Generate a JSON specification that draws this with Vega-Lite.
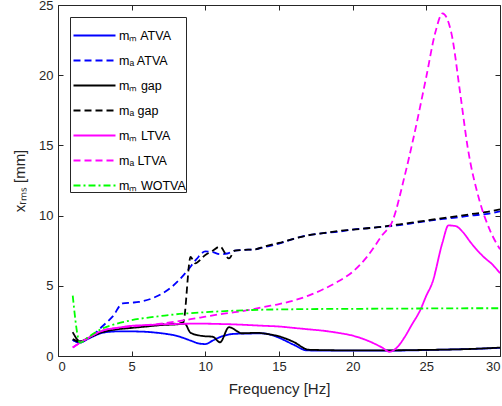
{
  "$schema": "https://vega.github.io/schema/vega-lite/v6.json",
  "width": 442,
  "height": 351,
  "autosize": {"type": "none"},
  "padding": {"left": 58, "top": 5, "right": 2, "bottom": 50},
  "background": "white",
  "config": {
    "view": {"stroke": "#262626", "strokeWidth": 1},
    "font": "Liberation Sans",
    "axis": {"grid": false, "domain": false, "ticks": true, "tickWidth": 1, "tickColor": "#262626", "labelColor": "#262626", "titleColor": "#262626", "labelFontSize": 13, "titleFontSize": 15, "titleFontWeight": "normal", "labelFont": "Liberation Sans", "titleFont": "Liberation Sans"}
  },
  "data": {"values": [
    {"s":"mₘ ATVA","f":1,"y":1.15},{"s":"mₘ ATVA","f":1.5,"y":0.95},{"s":"mₘ ATVA","f":2,"y":1.2},{"s":"mₘ ATVA","f":2.5,"y":1.45},{"s":"mₘ ATVA","f":3,"y":1.65},{"s":"mₘ ATVA","f":4,"y":1.75},{"s":"mₘ ATVA","f":5,"y":1.75},{"s":"mₘ ATVA","f":6,"y":1.72},{"s":"mₘ ATVA","f":7,"y":1.62},{"s":"mₘ ATVA","f":8,"y":1.45},{"s":"mₘ ATVA","f":9,"y":1.1},{"s":"mₘ ATVA","f":9.6,"y":0.88},{"s":"mₘ ATVA","f":10,"y":0.85},{"s":"mₘ ATVA","f":10.5,"y":1.1},{"s":"mₘ ATVA","f":11,"y":1.35},{"s":"mₘ ATVA","f":12,"y":1.58},{"s":"mₘ ATVA","f":13,"y":1.6},{"s":"mₘ ATVA","f":13.7,"y":1.62},{"s":"mₘ ATVA","f":14.5,"y":1.5},{"s":"mₘ ATVA","f":15,"y":1.3},{"s":"mₘ ATVA","f":16,"y":0.8},{"s":"mₘ ATVA","f":16.9,"y":0.4},{"s":"mₘ ATVA","f":18,"y":0.38},{"s":"mₘ ATVA","f":20,"y":0.38},{"s":"mₘ ATVA","f":22,"y":0.38},{"s":"mₘ ATVA","f":24,"y":0.4},{"s":"mₘ ATVA","f":26,"y":0.45},{"s":"mₘ ATVA","f":28,"y":0.5},{"s":"mₘ ATVA","f":30,"y":0.58},
    {"s":"mₐ ATVA","f":1,"y":1.15},{"s":"mₐ ATVA","f":1.5,"y":0.95},{"s":"mₐ ATVA","f":2,"y":1.25},{"s":"mₐ ATVA","f":2.5,"y":1.6},{"s":"mₐ ATVA","f":3,"y":2.1},{"s":"mₐ ATVA","f":3.7,"y":2.8},{"s":"mₐ ATVA","f":4.4,"y":3.75},{"s":"mₐ ATVA","f":5,"y":3.8},{"s":"mₐ ATVA","f":5.5,"y":3.85},{"s":"mₐ ATVA","f":6.6,"y":4.2},{"s":"mₐ ATVA","f":7.7,"y":4.9},{"s":"mₐ ATVA","f":8.8,"y":6.1},{"s":"mₐ ATVA","f":9.4,"y":6.9},{"s":"mₐ ATVA","f":10,"y":7.45},{"s":"mₐ ATVA","f":10.5,"y":7.4},{"s":"mₐ ATVA","f":11,"y":7.25},{"s":"mₐ ATVA","f":11.5,"y":7.3},{"s":"mₐ ATVA","f":12,"y":7.5},{"s":"mₐ ATVA","f":12.5,"y":7.55},{"s":"mₐ ATVA","f":13.4,"y":7.6},{"s":"mₐ ATVA","f":14,"y":7.75},{"s":"mₐ ATVA","f":15,"y":8.0},{"s":"mₐ ATVA","f":16,"y":8.35},{"s":"mₐ ATVA","f":17,"y":8.6},{"s":"mₐ ATVA","f":18,"y":8.75},{"s":"mₐ ATVA","f":19,"y":8.85},{"s":"mₐ ATVA","f":20,"y":9.0},{"s":"mₐ ATVA","f":21,"y":9.1},{"s":"mₐ ATVA","f":22,"y":9.2},{"s":"mₐ ATVA","f":23,"y":9.3},{"s":"mₐ ATVA","f":24,"y":9.45},{"s":"mₐ ATVA","f":25,"y":9.6},{"s":"mₐ ATVA","f":26,"y":9.75},{"s":"mₐ ATVA","f":27,"y":9.85},{"s":"mₐ ATVA","f":28,"y":10.0},{"s":"mₐ ATVA","f":29,"y":10.1},{"s":"mₐ ATVA","f":30,"y":10.3},
    {"s":"mₘ gap","f":1,"y":1.7},{"s":"mₘ gap","f":1.5,"y":1.05},{"s":"mₘ gap","f":2,"y":1.25},{"s":"mₘ gap","f":2.5,"y":1.5},{"s":"mₘ gap","f":3,"y":1.7},{"s":"mₘ gap","f":4,"y":1.9},{"s":"mₘ gap","f":5,"y":2.0},{"s":"mₘ gap","f":6,"y":2.1},{"s":"mₘ gap","f":7,"y":2.2},{"s":"mₘ gap","f":8,"y":2.25},{"s":"mₘ gap","f":8.6,"y":2.3},{"s":"mₘ gap","f":9.0,"y":1.65},{"s":"mₘ gap","f":9.85,"y":1.42},{"s":"mₘ gap","f":10.5,"y":1.37},{"s":"mₘ gap","f":11.0,"y":0.98},{"s":"mₘ gap","f":11.6,"y":2.05},{"s":"mₘ gap","f":12.5,"y":1.62},{"s":"mₘ gap","f":13.5,"y":1.65},{"s":"mₘ gap","f":14.3,"y":1.55},{"s":"mₘ gap","f":15,"y":1.4},{"s":"mₘ gap","f":16,"y":1.0},{"s":"mₘ gap","f":17,"y":0.45},{"s":"mₘ gap","f":18,"y":0.42},{"s":"mₘ gap","f":20,"y":0.4},{"s":"mₘ gap","f":22,"y":0.4},{"s":"mₘ gap","f":24,"y":0.42},{"s":"mₘ gap","f":26,"y":0.45},{"s":"mₘ gap","f":28,"y":0.5},{"s":"mₘ gap","f":30,"y":0.6},
    {"s":"mₐ gap","f":1,"y":1.2},{"s":"mₐ gap","f":1.5,"y":1.0},{"s":"mₐ gap","f":2,"y":1.25},{"s":"mₐ gap","f":2.5,"y":1.5},{"s":"mₐ gap","f":3,"y":1.7},{"s":"mₐ gap","f":4,"y":1.95},{"s":"mₐ gap","f":5,"y":2.05},{"s":"mₐ gap","f":6,"y":2.15},{"s":"mₐ gap","f":7,"y":2.25},{"s":"mₐ gap","f":8,"y":2.3},{"s":"mₐ gap","f":8.5,"y":2.4},{"s":"mₐ gap","f":9.0,"y":7.05},{"s":"mₐ gap","f":9.3,"y":6.6},{"s":"mₐ gap","f":10,"y":7.2},{"s":"mₐ gap","f":10.5,"y":7.5},{"s":"mₐ gap","f":11.0,"y":7.8},{"s":"mₐ gap","f":11.6,"y":6.95},{"s":"mₐ gap","f":12.0,"y":7.5},{"s":"mₐ gap","f":12.5,"y":7.55},{"s":"mₐ gap","f":13.4,"y":7.6},{"s":"mₐ gap","f":14,"y":7.8},{"s":"mₐ gap","f":15,"y":8.05},{"s":"mₐ gap","f":16,"y":8.35},{"s":"mₐ gap","f":17,"y":8.6},{"s":"mₐ gap","f":18,"y":8.75},{"s":"mₐ gap","f":19,"y":8.9},{"s":"mₐ gap","f":20,"y":9.0},{"s":"mₐ gap","f":21,"y":9.1},{"s":"mₐ gap","f":22,"y":9.2},{"s":"mₐ gap","f":23,"y":9.35},{"s":"mₐ gap","f":24,"y":9.5},{"s":"mₐ gap","f":25,"y":9.65},{"s":"mₐ gap","f":26,"y":9.8},{"s":"mₐ gap","f":27,"y":9.95},{"s":"mₐ gap","f":28,"y":10.1},{"s":"mₐ gap","f":29,"y":10.25},{"s":"mₐ gap","f":30,"y":10.45},
    {"s":"mₘ LTVA","f":1,"y":0.6},{"s":"mₘ LTVA","f":1.5,"y":0.95},{"s":"mₘ LTVA","f":2,"y":1.25},{"s":"mₘ LTVA","f":2.5,"y":1.55},{"s":"mₘ LTVA","f":3,"y":1.8},{"s":"mₘ LTVA","f":4,"y":2.0},{"s":"mₘ LTVA","f":5,"y":2.15},{"s":"mₘ LTVA","f":6,"y":2.2},{"s":"mₘ LTVA","f":7,"y":2.25},{"s":"mₘ LTVA","f":8,"y":2.28},{"s":"mₘ LTVA","f":9,"y":2.3},{"s":"mₘ LTVA","f":10,"y":2.3},{"s":"mₘ LTVA","f":11,"y":2.28},{"s":"mₘ LTVA","f":12,"y":2.25},{"s":"mₘ LTVA","f":13,"y":2.2},{"s":"mₘ LTVA","f":14,"y":2.15},{"s":"mₘ LTVA","f":15,"y":2.1},{"s":"mₘ LTVA","f":16,"y":2.0},{"s":"mₘ LTVA","f":17,"y":1.9},{"s":"mₘ LTVA","f":18,"y":1.8},{"s":"mₘ LTVA","f":19,"y":1.65},{"s":"mₘ LTVA","f":20,"y":1.45},{"s":"mₘ LTVA","f":21,"y":1.1},{"s":"mₘ LTVA","f":22,"y":0.6},{"s":"mₘ LTVA","f":22.5,"y":0.3},{"s":"mₘ LTVA","f":23,"y":0.6},{"s":"mₘ LTVA","f":23.5,"y":1.3},{"s":"mₘ LTVA","f":24,"y":2.2},{"s":"mₘ LTVA","f":24.6,"y":3.3},{"s":"mₘ LTVA","f":25,"y":4.3},{"s":"mₘ LTVA","f":25.4,"y":5.2},{"s":"mₘ LTVA","f":26.1,"y":8.1},{"s":"mₘ LTVA","f":26.5,"y":9.3},{"s":"mₘ LTVA","f":27,"y":9.25},{"s":"mₘ LTVA","f":27.5,"y":8.8},{"s":"mₘ LTVA","f":28,"y":8.1},{"s":"mₘ LTVA","f":28.9,"y":7.05},{"s":"mₘ LTVA","f":29.5,"y":6.5},{"s":"mₘ LTVA","f":30,"y":5.9},
    {"s":"mₐ LTVA","f":1,"y":0.6},{"s":"mₐ LTVA","f":1.5,"y":0.95},{"s":"mₐ LTVA","f":2,"y":1.25},{"s":"mₐ LTVA","f":2.5,"y":1.55},{"s":"mₐ LTVA","f":3,"y":1.8},{"s":"mₐ LTVA","f":4,"y":2.0},{"s":"mₐ LTVA","f":5,"y":2.1},{"s":"mₐ LTVA","f":6,"y":2.2},{"s":"mₐ LTVA","f":7,"y":2.3},{"s":"mₐ LTVA","f":8,"y":2.45},{"s":"mₐ LTVA","f":9,"y":2.62},{"s":"mₐ LTVA","f":10,"y":2.8},{"s":"mₐ LTVA","f":11,"y":2.98},{"s":"mₐ LTVA","f":12,"y":3.12},{"s":"mₐ LTVA","f":13,"y":3.28},{"s":"mₐ LTVA","f":14,"y":3.5},{"s":"mₐ LTVA","f":15,"y":3.7},{"s":"mₐ LTVA","f":16,"y":3.95},{"s":"mₐ LTVA","f":17,"y":4.3},{"s":"mₐ LTVA","f":18,"y":4.75},{"s":"mₐ LTVA","f":19,"y":5.3},{"s":"mₐ LTVA","f":20,"y":6.0},{"s":"mₐ LTVA","f":21,"y":7.1},{"s":"mₐ LTVA","f":22,"y":8.6},{"s":"mₐ LTVA","f":22.7,"y":9.6},{"s":"mₐ LTVA","f":23.5,"y":12.7},{"s":"mₐ LTVA","f":24.1,"y":15.4},{"s":"mₐ LTVA","f":25,"y":19.9},{"s":"mₐ LTVA","f":25.6,"y":23.0},{"s":"mₐ LTVA","f":26.1,"y":24.4},{"s":"mₐ LTVA","f":26.7,"y":23.0},{"s":"mₐ LTVA","f":27.3,"y":18.7},{"s":"mₐ LTVA","f":27.8,"y":14.9},{"s":"mₐ LTVA","f":28.6,"y":11.1},{"s":"mₐ LTVA","f":29.3,"y":9.0},{"s":"mₐ LTVA","f":30,"y":7.6},
    {"s":"mₘ WOTVA","f":1,"y":4.3},{"s":"mₘ WOTVA","f":1.5,"y":0.95},{"s":"mₘ WOTVA","f":2,"y":1.3},{"s":"mₘ WOTVA","f":2.5,"y":1.65},{"s":"mₘ WOTVA","f":3,"y":1.95},{"s":"mₘ WOTVA","f":4,"y":2.3},{"s":"mₘ WOTVA","f":5,"y":2.55},{"s":"mₘ WOTVA","f":6,"y":2.72},{"s":"mₘ WOTVA","f":7,"y":2.85},{"s":"mₘ WOTVA","f":8,"y":2.97},{"s":"mₘ WOTVA","f":9,"y":3.05},{"s":"mₘ WOTVA","f":10,"y":3.12},{"s":"mₘ WOTVA","f":11,"y":3.18},{"s":"mₘ WOTVA","f":12,"y":3.23},{"s":"mₘ WOTVA","f":13,"y":3.27},{"s":"mₘ WOTVA","f":14,"y":3.3},{"s":"mₘ WOTVA","f":16,"y":3.33},{"s":"mₘ WOTVA","f":18,"y":3.35},{"s":"mₘ WOTVA","f":20,"y":3.36},{"s":"mₘ WOTVA","f":22,"y":3.37},{"s":"mₘ WOTVA","f":24,"y":3.38},{"s":"mₘ WOTVA","f":26,"y":3.39},{"s":"mₘ WOTVA","f":28,"y":3.4},{"s":"mₘ WOTVA","f":30,"y":3.4}
  ]},
  "layer": [
    {
      "mark": {"type": "line", "strokeWidth": 1.8, "clip": true, "interpolate": "monotone"},
      "encoding": {
        "x": {"field": "f", "type": "quantitative", "scale": {"domain": [0, 30], "nice": false}, "axis": {"title": "Frequency [Hz]", "values": [0,5,10,15,20,25,30], "offset": -5, "tickSize": 5, "labelPadding": 4, "titlePadding": 8}},
        "y": {"field": "y", "type": "quantitative", "scale": {"domain": [0, 25], "nice": false}, "axis": {"title": "xᵣₘₛ [mm]", "values": [0,5,10,15,20,25], "offset": -5, "tickSize": 5, "labelPadding": 5, "titlePadding": 11}},
        "color": {"field": "s", "type": "nominal", "scale": {"domain": ["mₘ ATVA","mₐ ATVA","mₘ gap","mₐ gap","mₘ LTVA","mₐ LTVA","mₘ WOTVA"], "range": ["#0000ff","#0000ff","#000000","#000000","#ff00ff","#ff00ff","#00ff00"]},
          "legend": {"title": null, "orient": "none", "legendX": 12, "legendY": 12, "symbolType": "M-1.2,0L1.2,0", "symbolSize": 1225, "symbolStrokeWidth": 2, "symbolFillColor": "transparent", "symbolOffset": 6, "labelFontSize": 12.5, "labelColor": "#000000", "labelFont": "Liberation Sans", "strokeColor": "#262626", "fillColor": "white", "padding": 0, "rowPadding": 0, "labelOffset": 6}},
        "strokeDash": {"field": "s", "type": "nominal", "scale": {"domain": ["mₘ ATVA","mₐ ATVA","mₘ gap","mₐ gap","mₘ LTVA","mₐ LTVA","mₘ WOTVA"], "range": [[1,0],[7,4],[1,0],[7,4],[1,0],[7,4],[7,3,2,3]]}}
      }
    },
    {
      "mark": {"type": "tick", "opacity": 0},
      "encoding": {
        "x": {"field": "f", "type": "quantitative", "axis": {"orient": "top", "labels": false, "title": null, "values": [0,5,10,15,20,25,30], "offset": -5, "tickSize": 5}},
        "y": {"field": "y", "type": "quantitative", "axis": {"orient": "right", "labels": false, "title": null, "values": [0,5,10,15,20,25], "offset": -5, "tickSize": 5}}
      }
    }
  ],
  "resolve": {"axis": {"x": "independent", "y": "independent"}}
}
